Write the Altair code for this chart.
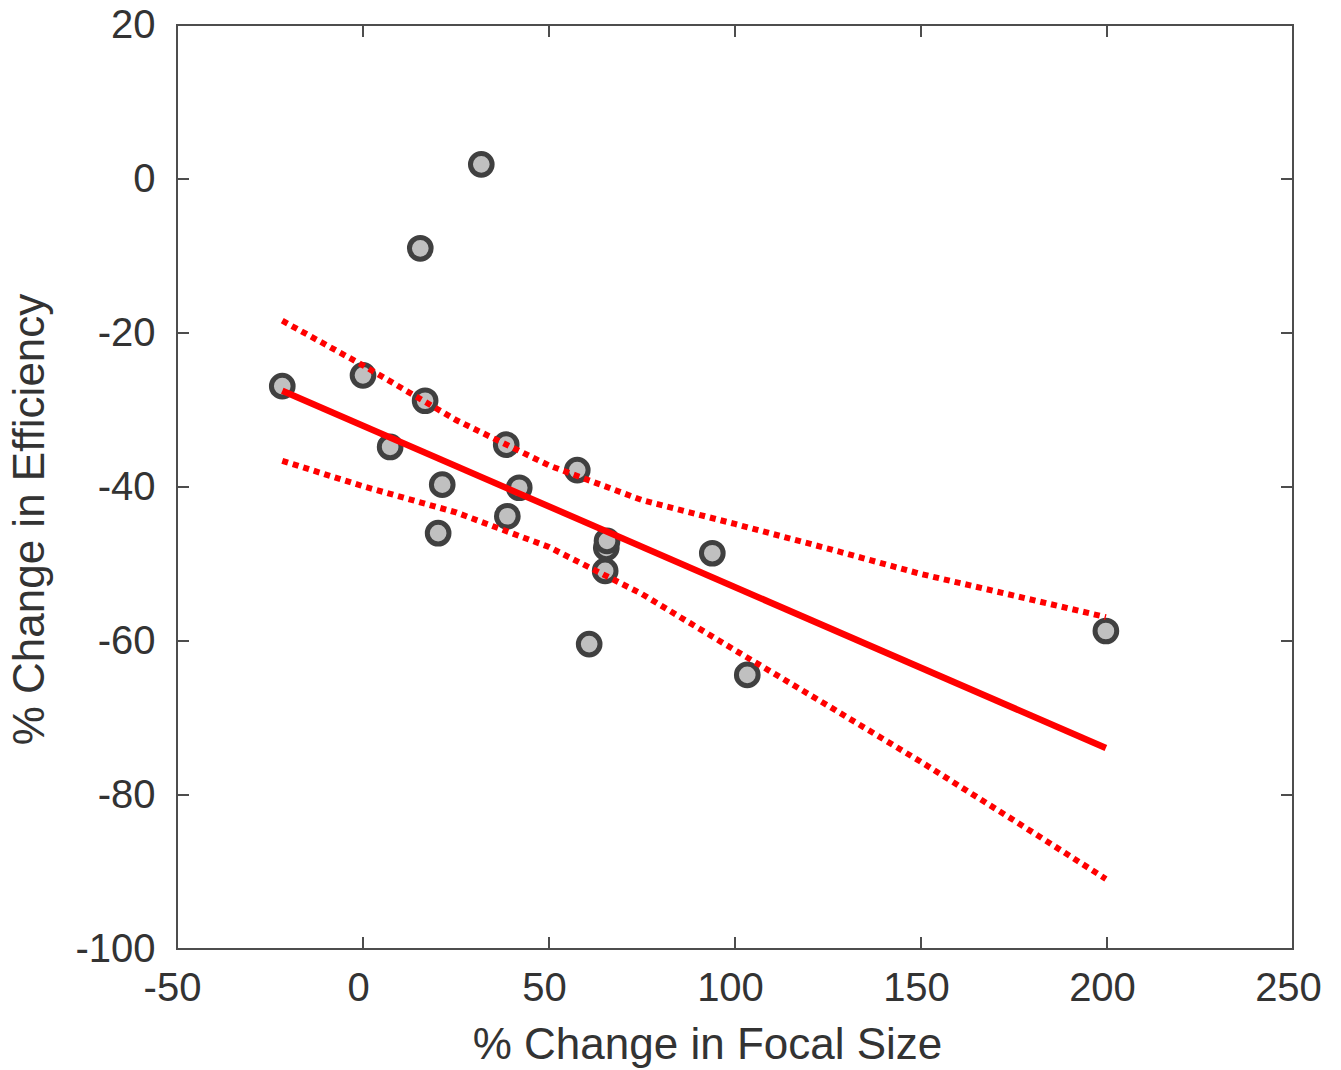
import altair as alt
import pandas as pd

# scatter data
focal_x = [-21.7, 0.0, 7.3, 15.4, 16.7, 20.2, 21.3, 31.8, 38.5, 38.8, 42.0,
           57.6, 60.8, 65.1, 65.4, 65.6, 93.9, 103.3, 199.7]
eff_y = [-26.9, -25.5, -34.8, -9.0, -28.8, -46.0, -39.7, 1.9, -34.5, -43.8, -40.1,
         -37.8, -60.4, -50.9, -47.9, -47.0, -48.6, -64.4, -58.7]

# regression line
fit_x = [-21.7, 199.7]
fit_y = [-27.5, -73.9]

# confidence band curves
ci_x = [-21.7, 0, 25, 50, 75, 100, 125, 150, 175, 199.7]
ci_upper = [-18.4, -24.2, -31.3, -37.2, -41.7, -44.8, -48.0, -51.3, -54.1, -56.9]
ci_lower = [-36.6, -39.9, -43.3, -47.8, -53.9, -61.2, -68.4, -75.7, -83.3, -90.9]

x_ticks = [-50, 0, 50, 100, 150, 200, 250]
y_ticks = [-100, -80, -60, -40, -20, 0, 20]

W, H = 1116, 924
FONT = "Liberation Sans"
TEXT = "#333333"
LINE = "#4d4d4d"

pts = pd.DataFrame({"x": focal_x, "y": eff_y})
fit = pd.DataFrame({"x": fit_x, "y": fit_y})
ci = pd.DataFrame({
    "x": ci_x + ci_x,
    "y": ci_upper + ci_lower,
    "band": ["upper"] * len(ci_x) + ["lower"] * len(ci_x),
})
xt = pd.DataFrame({"v": x_ticks})
yt = pd.DataFrame({"v": y_ticks})

xscale = alt.Scale(domain=[-50, 250], nice=False, zero=False)
yscale = alt.Scale(domain=[-100, 20], nice=False, zero=False)

xaxis = alt.Axis(values=x_ticks, grid=False, ticks=False, tickSize=0, domain=False,
                 labelFont=FONT, labelFontSize=40, labelColor=TEXT, labelPadding=19,
                 labelFlush=False, labelOverlap=False, labelOffset=-5,
                 labelExpr="'' + datum.value", title="% Change in Focal Size",
                 titleFont=FONT, titleFontSize=44, titleFontWeight="normal",
                 titleColor=TEXT, titlePadding=15, titleX=530, titleAlign="center")
yaxis = alt.Axis(values=y_ticks, grid=False, ticks=False, tickSize=0, domain=False,
                 labelFont=FONT, labelFontSize=40, labelColor=TEXT, labelPadding=22,
                 labelFlush=False, labelOverlap=False,
                 labelExpr="'' + datum.value", title="% Change in Efficiency",
                 titleFont=FONT, titleFontSize=44, titleFontWeight="normal",
                 titleColor=TEXT, titlePadding=22, titleY=494, titleAlign="center")

points = alt.Chart(pts).mark_point(
    shape="circle", filled=True, size=470, fill="#c0c0c0", stroke="#404040",
    strokeWidth=5, opacity=1
).encode(
    x=alt.X("x:Q", scale=xscale, axis=xaxis),
    y=alt.Y("y:Q", scale=yscale, axis=yaxis),
)

fit_line = alt.Chart(fit).mark_line(color="#ff0000", strokeWidth=6.5).encode(
    x=alt.X("x:Q", scale=xscale),
    y=alt.Y("y:Q", scale=yscale),
)

ci_lines = alt.Chart(ci).mark_line(
    color="#ff0000", strokeWidth=6, strokeDash=[6, 5], strokeCap="butt"
).encode(
    x=alt.X("x:Q", scale=xscale),
    y=alt.Y("y:Q", scale=yscale),
    detail="band:N",
)

TL = 12
xt_bottom = alt.Chart(xt).mark_rule(color=LINE, strokeWidth=2).encode(
    x=alt.X("v:Q", scale=xscale), y=alt.value(H), y2=alt.value(H - TL))
xt_top = alt.Chart(xt).mark_rule(color=LINE, strokeWidth=2).encode(
    x=alt.X("v:Q", scale=xscale), y=alt.value(0), y2=alt.value(TL))
yt_left = alt.Chart(yt).mark_rule(color=LINE, strokeWidth=2).encode(
    y=alt.Y("v:Q", scale=yscale), x=alt.value(0), x2=alt.value(TL))
yt_right = alt.Chart(yt).mark_rule(color=LINE, strokeWidth=2).encode(
    y=alt.Y("v:Q", scale=yscale), x=alt.value(W), x2=alt.value(W - TL))

chart = alt.layer(
    points, ci_lines, fit_line, xt_bottom, xt_top, yt_left, yt_right
).properties(
    width=W, height=H,
    autosize=alt.AutoSizeParams(type="none"),
    padding={"left": 169, "top": 17, "right": 40, "bottom": 128},
).configure(
    background="white",
    view=alt.ViewConfig(stroke=LINE, strokeWidth=2),
)

chart.save("out.html", embed_options={"renderer": "svg", "actions": False})
